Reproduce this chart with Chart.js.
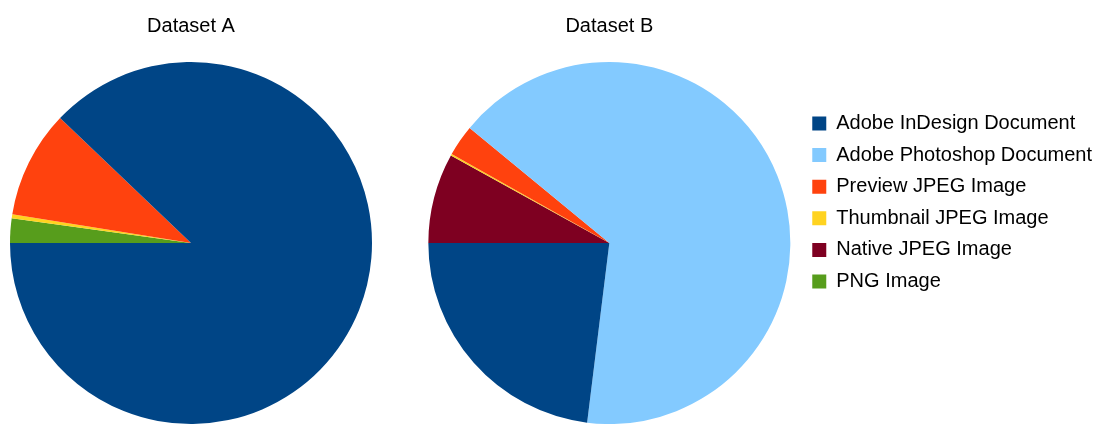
<!DOCTYPE html>
<html>
<head>
<meta charset="utf-8">
<script src="https://cdn.jsdelivr.net/npm/chart.js@4/dist/chart.umd.min.js"></script>
<style>
  html, body { margin: 0; padding: 0; background: #ffffff; overflow: hidden; }
  body { width: 1102px; height: 424px; position: relative; }
  canvas { position: absolute; }
  #chartA { left: 0px; top: 0px; }
  #chartB { left: 418px; top: -19px; }
</style>
</head>
<body>
<canvas id="chartA" width="382" height="424"></canvas>
<canvas id="chartB" width="684" height="443"></canvas>
<script>
// Data (legend order)
const categories = [
  'Adobe InDesign Document',
  'Adobe Photoshop Document',
  'Preview JPEG Image',
  'Thumbnail JPEG Image',
  'Native JPEG Image',
  'PNG Image'
];
const valuesA = [87.87, 0, 9.59, 0.36, 0, 2.18];
const valuesB = [23.04, 65.99, 2.80, 0.14, 8.03, 0];
const titles = ['Dataset A', 'Dataset B'];
const colors = ['#004586', '#83caff', '#ff420e', '#ffd320', '#7e0021', '#579d1c'];

// The reference draws slices counter-clockwise from 9 o'clock;
// Chart.js draws clockwise, so feed the slices in reverse order.
const rev = a => a.slice().reverse();

Chart.defaults.font.family = '"Liberation Sans", Arial, sans-serif';
Chart.defaults.color = '#000000';

function makeOptions(title, titleTop, showLegend) {
  return {
    responsive: false,
    animation: false,
    rotation: 270,
    layout: { padding: 0 },
    plugins: {
      tooltip: { enabled: false },
      title: {
        display: true,
        text: title,
        fullSize: false,
        color: '#000000',
        font: { size: 20, weight: 'normal', lineHeight: 1.2 },
        padding: { top: titleTop, bottom: 24 }
      },
      legend: {
        display: showLegend,
        position: 'right',
        reverse: true,
        fullSize: true,
        labels: {
          boxWidth: 14,
          boxHeight: 14,
          padding: 11.6,
          color: '#000000',
          font: { size: 20 }
        }
      }
    }
  };
}

function makeData(values) {
  return {
    labels: rev(categories),
    datasets: [{
      data: rev(values),
      backgroundColor: rev(colors),
      borderWidth: 0,
      hoverOffset: 0,
      offset: 0
    }]
  };
}

new Chart(document.getElementById('chartA'), {
  type: 'pie',
  data: makeData(valuesA),
  options: makeOptions(titles[0], 14, false)
});

new Chart(document.getElementById('chartB'), {
  type: 'pie',
  data: makeData(valuesB),
  options: makeOptions(titles[1], 33, true)
});
</script>
</body>
</html>
